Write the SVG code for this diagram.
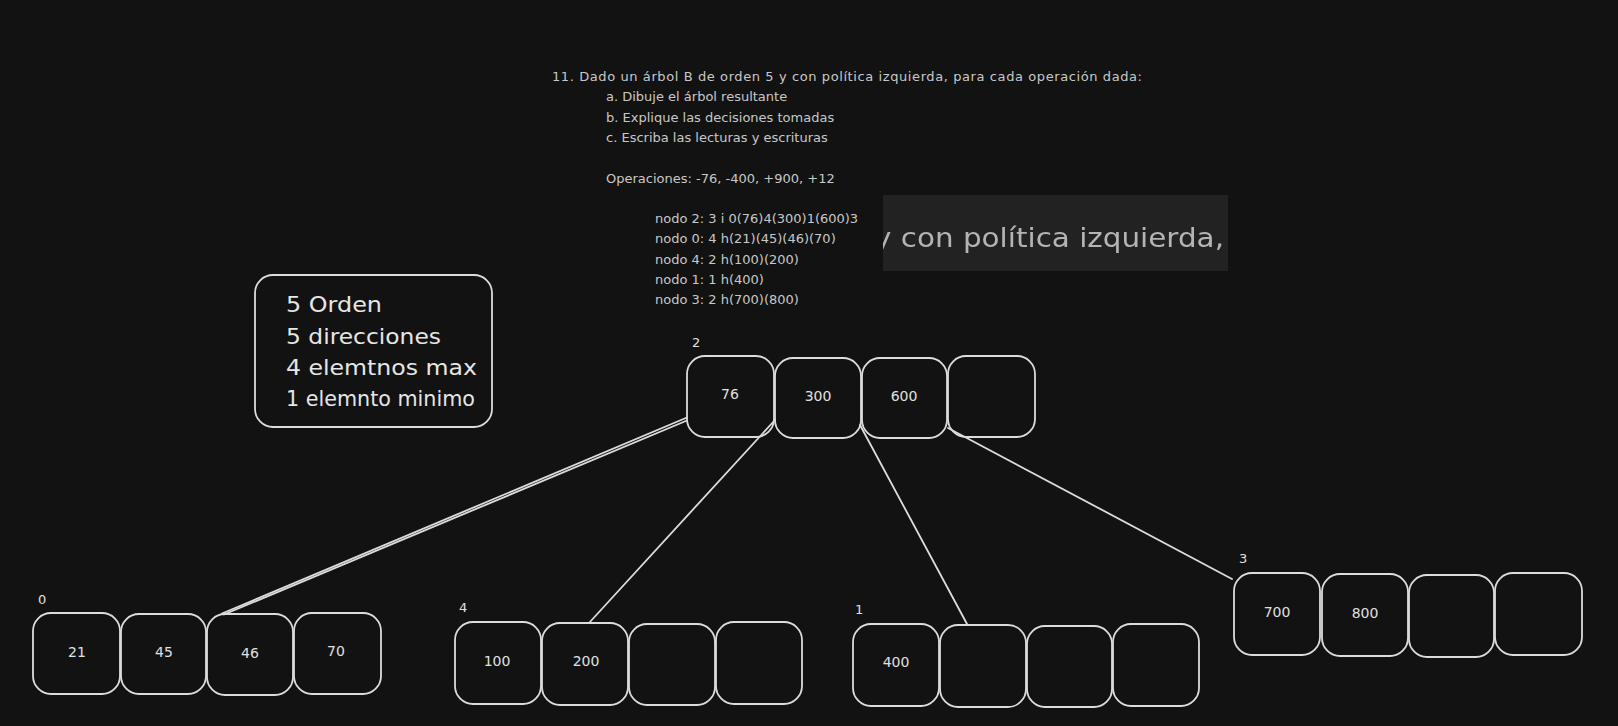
<svg xmlns="http://www.w3.org/2000/svg" width="1618" height="726" viewBox="0 0 1618 726">
<style>
.bg{fill:#121212}
.box{fill:#121212;stroke:#dcdcdc;stroke-width:1.8}
.t{font-family:"DejaVu Sans","Liberation Sans",sans-serif;font-size:13px;fill:#c8c8c8}
.h{font-family:"DejaVu Sans","Liberation Sans",sans-serif;font-size:22px;fill:#e6e6e6}
.v{font-family:"DejaVu Sans","Liberation Sans",sans-serif;font-size:14px;fill:#e0e0e0;text-anchor:middle}
.lab{font-family:"DejaVu Sans","Liberation Sans",sans-serif;font-size:13px;fill:#e0e0e0}
.ln{stroke:#dcdcdc;stroke-width:1.8;fill:none;stroke-linecap:round}
</style>
<defs>
<clipPath id="imgclip"><rect x="883" y="195" width="345" height="76"/></clipPath>
<filter id="blur"><feGaussianBlur stdDeviation="0.6"/></filter>
</defs>
<rect class="bg" x="0" y="0" width="1618" height="726"/>

<g id="enunciado">
<text class="t" x="552" y="81" textLength="590" lengthAdjust="spacing">11. Dado un árbol B de orden 5  y con política izquierda, para cada operación dada:</text>
<text class="t" x="606" y="101">a. Dibuje el árbol resultante</text>
<text class="t" x="606" y="121.5">b. Explique las decisiones tomadas</text>
<text class="t" x="606" y="142">c. Escriba las lecturas y escrituras</text>
<text class="t" x="606" y="182.5">Operaciones: -76, -400, +900, +12</text>
<text class="t" x="655" y="222.5">nodo 2: 3 i 0(76)4(300)1(600)3</text>
<text class="t" x="655" y="243">nodo 0: 4 h(21)(45)(46)(70)</text>
<text class="t" x="655" y="263.5">nodo 4: 2 h(100)(200)</text>
<text class="t" x="655" y="283.5">nodo 1: 1 h(400)</text>
<text class="t" x="655" y="304">nodo 3: 2 h(700)(800)</text>
</g>

<g id="recorte">
<rect x="883" y="195" width="345" height="76" fill="#222222"/>
<g clip-path="url(#imgclip)" filter="url(#blur)">
<text x="874" y="247" font-family="DejaVu Sans, Liberation Sans, sans-serif" font-size="27" fill="#b4b4b4" textLength="350" lengthAdjust="spacingAndGlyphs">y con política izquierda,</text>
</g>
</g>

<g id="info">
<rect class="box" x="255" y="275" width="237" height="152" rx="18" ry="18"/>
<text class="h" x="286" y="312" textLength="96" lengthAdjust="spacingAndGlyphs">5 Orden</text>
<text class="h" x="286" y="344" textLength="155" lengthAdjust="spacingAndGlyphs">5 direcciones</text>
<text class="h" x="286" y="375" textLength="191" lengthAdjust="spacingAndGlyphs">4 elemtnos max</text>
<text class="h" x="286" y="406" textLength="189" lengthAdjust="spacingAndGlyphs">1 elemnto minimo</text>
</g>

<g id="nodo2">
<text class="lab" x="692" y="347">2</text>
<rect class="box" x="687" y="356" width="87" height="81" rx="18"/>
<rect class="box" x="775" y="358" width="86" height="80" rx="18"/>
<rect class="box" x="862" y="358" width="85" height="80" rx="18"/>
<rect class="box" x="948" y="356" width="87" height="81" rx="18"/>
<text class="v" x="730" y="399">76</text>
<text class="v" x="818" y="401">300</text>
<text class="v" x="904" y="401">600</text>
</g>

<g id="nodo0">
<text class="lab" x="38" y="604">0</text>
<rect class="box" x="33" y="613" width="87" height="81" rx="18"/>
<rect class="box" x="121" y="614" width="85" height="80" rx="18"/>
<rect class="box" x="207" y="614" width="86" height="81" rx="18"/>
<rect class="box" x="294" y="613" width="87" height="81" rx="18"/>
<text class="v" x="77" y="657">21</text>
<text class="v" x="164" y="657">45</text>
<text class="v" x="250" y="658">46</text>
<text class="v" x="336" y="656">70</text>
</g>

<g id="nodo4">
<text class="lab" x="459" y="612">4</text>
<rect class="box" x="455" y="622" width="86" height="82" rx="18"/>
<rect class="box" x="542" y="623" width="86" height="82" rx="18"/>
<rect class="box" x="629" y="624" width="86" height="81" rx="18"/>
<rect class="box" x="716" y="622" width="86" height="82" rx="18"/>
<text class="v" x="497" y="666">100</text>
<text class="v" x="586" y="666">200</text>
</g>

<g id="nodo1">
<text class="lab" x="855" y="614">1</text>
<rect class="box" x="853" y="624" width="86" height="82" rx="18"/>
<rect class="box" x="940" y="625" width="86" height="82" rx="18"/>
<rect class="box" x="1027" y="626" width="85" height="81" rx="18"/>
<rect class="box" x="1113" y="624" width="86" height="82" rx="18"/>
<text class="v" x="896" y="667">400</text>
</g>

<g id="nodo3">
<text class="lab" x="1239" y="563">3</text>
<rect class="box" x="1234" y="573" width="86" height="82" rx="18"/>
<rect class="box" x="1322" y="574" width="86" height="82" rx="18"/>
<rect class="box" x="1409" y="575" width="85" height="82" rx="18"/>
<rect class="box" x="1495" y="573" width="87" height="82" rx="18"/>
<text class="v" x="1277" y="617">700</text>
<text class="v" x="1365" y="618">800</text>
</g>

<g id="conectores">
<line class="ln" x1="687" y1="417.5" x2="222" y2="613.5"/>
<line class="ln" x1="687" y1="420.5" x2="224" y2="614.5" stroke-width="1.2"/>
<line class="ln" x1="775" y1="420" x2="589" y2="623"/>
<line class="ln" x1="860" y1="425" x2="967" y2="624"/>
<line class="ln" x1="948" y1="428" x2="1232" y2="579"/>
</g>
</svg>
